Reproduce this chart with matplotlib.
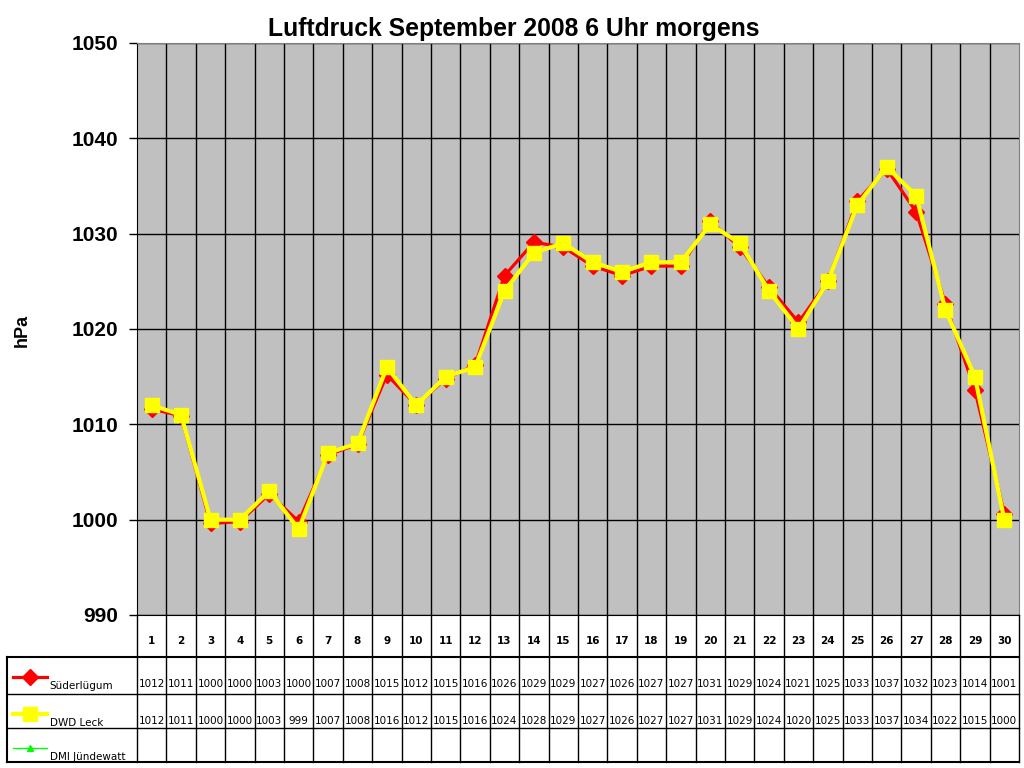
import matplotlib
matplotlib.use("Agg")
import matplotlib.pyplot as plt

# Luftdruck September 2008, 6 Uhr morgens
tage = list(range(1, 31))
suederluegum = [1011.6, 1010.9, 999.6, 999.8, 1002.7, 999.8, 1006.8, 1007.9, 1015.2, 1012.0,
                1014.8, 1016.2, 1025.6, 1029.1, 1028.6, 1026.6, 1025.6, 1026.6, 1026.6, 1031.3,
                1028.6, 1024.4, 1020.7, 1025.0, 1033.4, 1036.8, 1032.3, 1022.6, 1013.6, 1000.6]
dwd_leck = [1012, 1011, 1000, 1000, 1003, 999, 1007, 1008, 1016, 1012,
            1015, 1016, 1024, 1028, 1029, 1027, 1026, 1027, 1027, 1031,
            1029, 1024, 1020, 1025, 1033, 1037, 1034, 1022, 1015, 1000]
dmi_juendewatt = []
namen = ["Süderlügum", "DWD Leck", "DMI Jündewatt"]

plt.rcParams['font.family'] = ['Liberation Sans', 'DejaVu Sans']

W, H = 1024, 768
fig = plt.figure(figsize=(W / 100, H / 100), dpi=100)

# Hauptdiagramm
x0, x1, y0, y1 = 137, 1019, 43, 615
ax = fig.add_axes([x0 / W, 1 - y1 / H, (x1 - x0) / W, (y1 - y0) / H])
ax.set_facecolor('#C0C0C0')
ax.set_xlim(0.5, 30.5)
ax.set_ylim(990, 1050)
ax.set_yticks(range(990, 1051, 10))
ax.set_xticks([t + 0.5 for t in tage[:-1]])
ax.tick_params(axis='x', length=0, labelbottom=False)
ax.tick_params(axis='y', length=6, width=1, labelsize=15, pad=7.5)
for lab in ax.get_yticklabels():
    lab.set_fontweight('bold')
ax.grid(True, color='black', linewidth=1)
ax.set_axisbelow(True)
for s in ['top', 'right']:
    ax.spines[s].set_color('#808080')
ax.spines['left'].set_color('black')
ax.spines['bottom'].set_color('black')

ax.plot(tage, suederluegum, color='#FF0000', linewidth=2.3, marker='D', markersize=8,
        markeredgecolor='#FF0000', zorder=3)
ax.plot(tage, dwd_leck, color='#FFFF00', linewidth=3, marker='s', markersize=10,
        markeredgecolor='#FFFF00', zorder=4)

fig.text(514 / W, 1 - 29 / H, "Luftdruck September 2008 6 Uhr morgens", ha='center', va='center',
         fontsize=17.8, fontweight='bold')
fig.text(22 / W, 1 - 330 / H, "hPa", ha='center', va='center', rotation=90,
         fontsize=13, fontweight='bold')

# Datentabelle
tx0 = 7
tb = fig.add_axes([tx0 / W, 1 - 762 / H, (x1 - tx0) / W, (762 - y1) / H])
tb.set_xlim(0.5 - (x0 - tx0) / ((x1 - x0) / 30), 30.5)
tb.set_ylim(147, 0)
tb.axis('off')
xl = tb.get_xlim()[0]
reihen = [0, 42, 79, 113, 147]

for t in tage:
    tb.plot([t - 0.5, t - 0.5], [0, 147], color='black', linewidth=1, clip_on=False)
tb.plot([30.5, 30.5], [0, 147], color='black', linewidth=1, clip_on=False)
tb.plot([xl, xl], [42, 147], color='black', linewidth=1.5, clip_on=False)
for r in reihen[1:]:
    tb.plot([xl, 30.5], [r, r], color='black', linewidth=1.5 if r in (42, 147) else 1, clip_on=False)

for t in tage:
    tb.text(t, 26, str(t), ha='center', va='center', fontsize=7.5, fontweight='bold',
            fontfamily=['DejaVu Sans'])

werte = [suederluegum, dwd_leck, dmi_juendewatt]
stile = [dict(color='#FF0000', marker='D', markersize=8, linewidth=2.3),
         dict(color='#FFFF00', marker='s', markersize=10, linewidth=3),
         dict(color='#00FF00', marker='^', markersize=5, linewidth=1)]
for i, (name, reihe, stil) in enumerate(zip(namen, werte, stile)):
    ymid = reihen[i + 1] + 27
    lx = [xl + 0.2, xl + 0.775, xl + 1.35]
    tb.plot(lx, [ymid - 7] * 3, clip_on=False, markevery=[1], **stil)
    tb.text(xl + 1.45, ymid + 2, name, ha='left', va='center', fontsize=7.5,
            fontfamily=['DejaVu Sans'])
    for t, v in zip(tage, reihe):
        tb.text(t, ymid, f"{v:.0f}", ha='center', va='center', fontsize=7.5,
                fontfamily=['DejaVu Sans'])

fig.savefig("out.png", dpi=100)
